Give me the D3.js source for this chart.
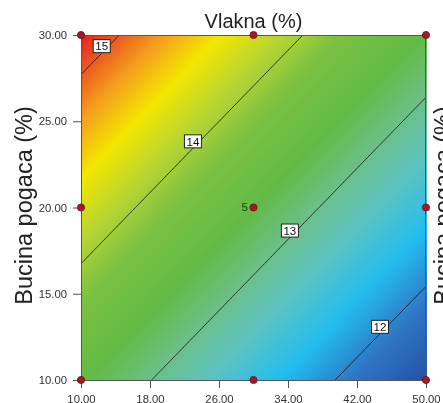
<!DOCTYPE html>
<html>
<head>
<meta charset="utf-8">
<script src="https://cdn.jsdelivr.net/npm/d3@7"></script>
<style>
  html, body { margin: 0; padding: 0; background: #fff; overflow: hidden; }
  #wrap { position: relative; width: 443px; height: 403px; }
  #wrap canvas, #wrap svg { position: absolute; left: 0; top: 0; }
  text { font-family: "Liberation Sans", Arial, sans-serif; }
</style>
</head>
<body>
<div id="wrap">
  <canvas id="field"></canvas>
  <svg id="chart" width="443" height="403"></svg>
</div>
<script>
// ---- Factors and tick labels ----
const xDomain = [10, 50];                 // Vlakna (%)
const yDomain = [10, 30];                 // Bucina pogaca (%)
const xTicks = [10, 18, 26, 34, 42, 50];
const yTicks = [10, 15, 20, 25, 30];

// ---- Fitted linear model, coded factors A = Vlakna, B = Bucina pogaca ----
const modelTerms = ["Intercept", "A", "B"];
const modelCoefs = [13.357, -0.94, 0.912];
const contourLevels = [12, 13, 14, 15];

// ---- Design points (actual units) and replicate counts ----
const designX = [10, 30, 50, 10, 30, 50, 10, 30, 50];
const designY = [10, 10, 10, 20, 20, 20, 30, 30, 30];
const designReps = [1, 1, 1, 1, 5, 1, 1, 1, 1];

// ---- Colour ramp: response value -> colour ----
const rampValues = [11.5, 11.9, 12.3, 12.7, 13.0, 13.35, 13.8, 14.1, 14.45, 14.75, 15.2];
const rampColors = ["#2352a3", "#2f74c4", "#22bdef", "#5ec3c0", "#6bc08a", "#62bb46",
                    "#7cc142", "#b5d434", "#f4e600", "#f6a01e", "#e3211f"];

// ---- Layout ----
const W = 443, H = 403;
// where each contour label sits along its line (same order as contourLevels)
const labelAnchorX = [44.7, 34.2, 23.0, 12.4];
const labelLift = 7;   // labels sit just above their line

const x = d3.scaleLinear().domain(xDomain).range([81, 426]);
const y = d3.scaleLinear().domain(yDomain).range([380, 35]);
const color = d3.scaleLinear().domain(rampValues).range(rampColors)
  .interpolate(d3.interpolateRgb).clamp(true);

const xMid = (xDomain[0] + xDomain[1]) / 2, xHalf = (xDomain[1] - xDomain[0]) / 2;
const yMid = (yDomain[0] + yDomain[1]) / 2, yHalf = (yDomain[1] - yDomain[0]) / 2;
function response(vx, vy) {
  const coded = [1, (vx - xMid) / xHalf, (vy - yMid) / yHalf];
  return d3.sum(modelCoefs, (c, i) => c * coded[i]);
}

// ---- Response surface raster ----
const canvas = document.getElementById("field");
canvas.width = W; canvas.height = H;
const ctx = canvas.getContext("2d");
const px0 = Math.round(x.range()[0]), px1 = Math.round(x.range()[1]);
const py0 = Math.round(y.range()[1]), py1 = Math.round(y.range()[0]);
const img = ctx.createImageData(px1 - px0 + 1, py1 - py0 + 1);
for (let j = 0; j < img.height; j++) {
  const vy = y.invert(py0 + j + 0.5);
  for (let i = 0; i < img.width; i++) {
    const c = d3.rgb(color(response(x.invert(px0 + i + 0.5), vy)));
    const k = 4 * (j * img.width + i);
    img.data[k] = c.r; img.data[k + 1] = c.g; img.data[k + 2] = c.b; img.data[k + 3] = 255;
  }
}
ctx.putImageData(img, px0, py0);

const svg = d3.select("#chart");

// ---- Contour lines (grid slightly wider than the plot, clipped to it) ----
const nx = 241, ny = 141;
const gx0 = xDomain[0] - 2, gx1 = xDomain[1] + 2;
const gy0 = yDomain[0] - 2, gy1 = yDomain[1] + 2;
const sx = (gx1 - gx0) / (nx - 1), sy = (gy1 - gy0) / (ny - 1);
const gridVals = new Array(nx * ny);
for (let j = 0; j < ny; j++)
  for (let i = 0; i < nx; i++)
    gridVals[j * nx + i] = response(gx0 + i * sx, gy0 + j * sy);
const toDataX = g => gx0 + (g - 0.5) * sx;
const toDataY = g => gy0 + (g - 0.5) * sy;
const contours = d3.contours().size([nx, ny]).thresholds(contourLevels)(gridVals);
const proj = d3.geoTransform({
  point(gx, gy) { this.stream.point(x(toDataX(gx)), y(toDataY(gy))); }
});
const path = d3.geoPath(proj);

svg.append("clipPath").attr("id", "plotClip")
  .append("rect").attr("x", x(xDomain[0])).attr("y", y(yDomain[1]))
  .attr("width", x(xDomain[1]) - x(xDomain[0])).attr("height", y(yDomain[0]) - y(yDomain[1]));

svg.append("g").attr("clip-path", "url(#plotClip)")
  .selectAll("path").data(contours).join("path")
  .attr("d", path)
  .attr("fill", "none")
  .attr("stroke", "#1c1c1c")
  .attr("stroke-width", 0.9);

// ---- Contour labels ----
const labelG = svg.append("g");
contours.forEach((c, k) => {
  let best = null, bestD = Infinity;
  c.coordinates.forEach(poly => poly.forEach(ring => ring.forEach(([gx, gy]) => {
    const dx = toDataX(gx), dy = toDataY(gy);
    if (dx < xDomain[0] || dx > xDomain[1] || dy < yDomain[0] || dy > yDomain[1]) return;
    const d = Math.abs(dx - labelAnchorX[k]);
    if (d < bestD) { bestD = d; best = [dx, dy]; }
  })));
  if (!best) return;
  const cx = x(best[0]), cy = y(best[1]) - labelLift;
  const g = labelG.append("g").attr("transform", `translate(${cx},${cy})`);
  g.append("rect").attr("x", -8.5).attr("y", -6.5).attr("width", 17).attr("height", 13)
    .attr("fill", "#fff").attr("stroke", "#111").attr("stroke-width", 0.9);
  g.append("text").attr("text-anchor", "middle").attr("y", 4.2)
    .attr("font-size", 11.5).attr("fill", "#111").text(c.value);
});

// ---- Frame and axes ----
svg.append("rect")
  .attr("x", x(xDomain[0]) + 0.5).attr("y", y(yDomain[1]) + 0.5)
  .attr("width", x(xDomain[1]) - x(xDomain[0]) - 1).attr("height", y(yDomain[0]) - y(yDomain[1]))
  .attr("fill", "none").attr("stroke", "#555").attr("stroke-width", 1);

const fmt = d3.format(".2f");
const yAxis = svg.append("g").attr("transform", `translate(${x(xDomain[0])},0)`)
  .call(d3.axisLeft(y).tickValues(yTicks).tickFormat(fmt).tickSize(8).tickSizeOuter(0).tickPadding(6));
const xAxis = svg.append("g").attr("transform", `translate(0,${y(yDomain[0])})`)
  .call(d3.axisBottom(x).tickValues(xTicks).tickFormat(fmt).tickSize(8).tickSizeOuter(0).tickPadding(7));
[xAxis, yAxis].forEach(a => {
  a.select(".domain").attr("stroke", "#555");
  a.selectAll(".tick line").attr("stroke", "#555");
  a.selectAll(".tick text").attr("fill", "#333").attr("font-size", 11.3)
    .attr("font-family", "'Liberation Sans', Arial, sans-serif");
});

// ---- Design points ----
const pts = designX.map((dx, i) => ({ x: dx, y: designY[i], n: designReps[i] }));
svg.append("g").selectAll("circle").data(pts).join("circle")
  .attr("cx", d => x(d.x)).attr("cy", d => y(d.y)).attr("r", 3.6)
  .attr("fill", "#a4182a").attr("stroke", "#6e0f1a").attr("stroke-width", 0.8);
svg.append("g").selectAll("text").data(pts.filter(d => d.n > 1)).join("text")
  .attr("x", d => x(d.x) - 5.5).attr("y", d => y(d.y) + 3)
  .attr("text-anchor", "end").attr("font-size", 11.5).attr("fill", "#223322")
  .text(d => d.n);

// ---- Axis titles ----
svg.append("text").attr("x", x(xMid)).attr("y", 27.5)
  .attr("text-anchor", "middle").attr("font-size", 20).attr("fill", "#222")
  .text("Vlakna (%)");
svg.append("text").attr("transform", `translate(31.5,${y(yMid) - 2}) rotate(-90)`)
  .attr("text-anchor", "middle").attr("font-size", 23.5).attr("fill", "#222")
  .text("Bucina pogaca (%)");
svg.append("text").attr("transform", `translate(451,${y(yMid) - 2}) rotate(-90)`)
  .attr("text-anchor", "middle").attr("font-size", 23.5).attr("fill", "#222")
  .text("Bucina pogaca (%)");
</script>
</body>
</html>
